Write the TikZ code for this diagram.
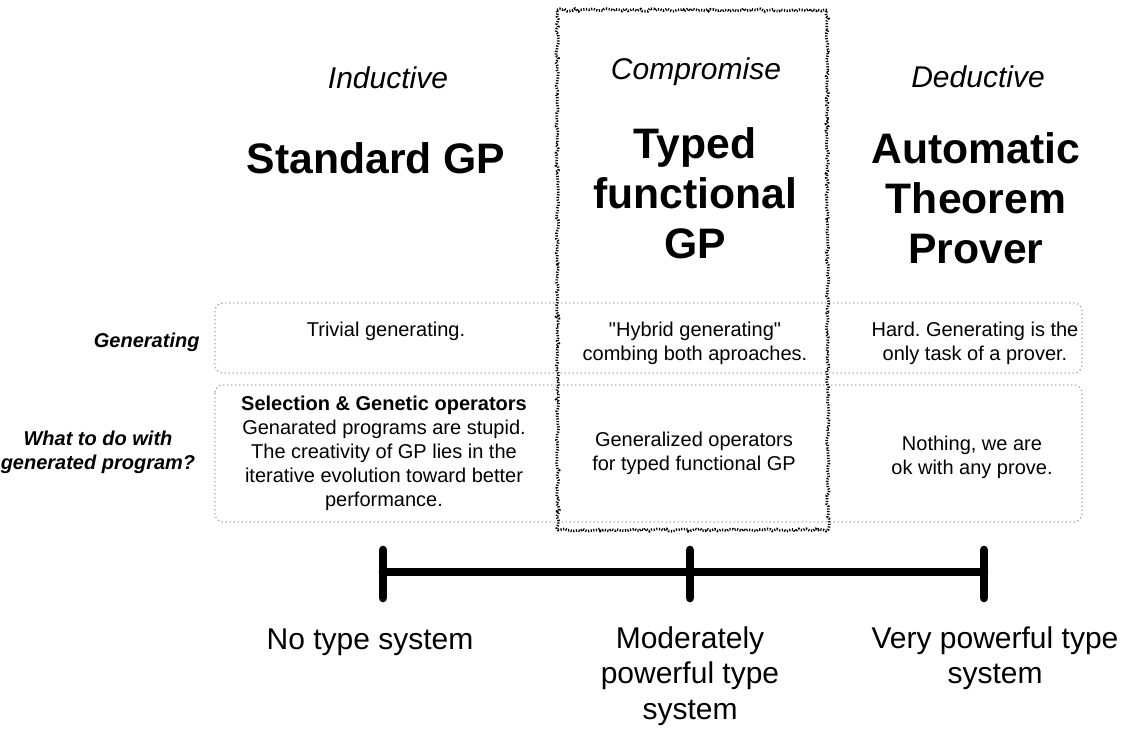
\documentclass[tikz,border=0pt]{standalone}
\usepackage{fontspec}
\setmainfont{Liberation Sans}
\newfontfamily\plainquotes{Liberation Sans}[Ligatures=TeXOff]
\usetikzlibrary{decorations.pathmorphing}
\frenchspacing

\tikzset{every picture/.style={line width=0.75pt}}
\tikzset{
  rowbox/.style={draw={rgb, 255:red, 170; green, 170; blue, 170 }, dotted, line width=1pt, rounded corners=6pt},
  roughbox/.style={draw=black, line width=2pt, dash pattern=on 0.9pt off 1.1pt, decorate, decoration={random steps, segment length=2pt, amplitude=1pt}},
  celltext/.style={inner sep=0.75pt, align=center, font=\fontsize{15}{18}\selectfont},
  rowlabel/.style={inner sep=0.75pt, align=center, font=\fontsize{15}{18}\selectfont\bfseries\itshape},
  headtext/.style={inner sep=0.75pt, align=center, font=\fontsize{32}{37.5}\selectfont\bfseries},
  kindtext/.style={inner sep=0.75pt, font=\fontsize{22.5}{26.6}\selectfont\itshape},
  axistext/.style={inner sep=0.75pt, align=center, font=\fontsize{22.5}{26.6}\selectfont},
  axisline/.style={line width=6.5pt, line cap=round}
}

\begin{document}
\begin{tikzpicture}[x=0.75pt,y=0.75pt,yscale=-1,xscale=1]
    \useasboundingbox (0,0) rectangle (1145,735);

    %Shape: Rounded Rectangle [id:generating row]
    \draw [rowbox] (215,303) rectangle (1082,373);
    %Shape: Rounded Rectangle [id:what to do row]
    \draw [rowbox] (215,385) rectangle (1082,522);
    %Shape: Rectangle [id:compromise column]
    \draw [roughbox] (557,10) -- (827,10) -- (828,530) -- (558,530) -- cycle;

    % Text Node
    \node [kindtext] (inductive) at (388,78) {Inductive};
    % Text Node
    \node [kindtext] (compromise) at (696,72) {Compromise};
    % Text Node
    \node [kindtext] (deductive) at (978,77) {Deductive};

    % Text Node
    \node [headtext] (stdgp) at (376,158) {Standard GP};
    % Text Node
    \node [headtext] (typedgp) at (695,193) {Typed\\functional\\GP};
    % Text Node
    \node [headtext] (prover) at (976,198) {Automatic\\Theorem\\Prover};

    % Text Node
    \node [rowlabel, anchor=east] (generating) at (201,342) {Generating};
    % Text Node
    \node [rowlabel] (whattodo) at (98,452) {What to do with\\generated program?};

    % Text Node
    \node [celltext] (stdgen) at (386,331) {Trivial generating.};
    % Text Node
    \node [celltext] (typedgen) at (695,343) {{\plainquotes"}Hybrid generating{\plainquotes"}\\combing both aproaches.};
    % Text Node
    \node [celltext] (provergen) at (975,343) {Hard. Generating is the\\only task of a prover.};

    % Text Node
    \node [celltext] (stdop) at (384,453) {\textbf{Selection \& Genetic operators}\\Genarated programs are stupid.\\The creativity of GP lies in the\\iterative evolution toward better\\performance.};
    % Text Node
    \node [celltext] (typedop) at (694,453) {Generalized operators\\for typed functional GP};
    % Text Node
    \node [celltext] (proverop) at (972,457) {Nothing, we are\\ok with any prove.};

    %Straight Lines [id:type axis]
    \coordinate (notype) at (383,572);
    \coordinate (modtype) at (690,572);
    \coordinate (fulltype) at (984,572);
    \coordinate (notypetop) at (383,550);
    \coordinate (notypebot) at (383,598);
    \coordinate (modtypetop) at (690,550);
    \coordinate (modtypebot) at (690,598);
    \coordinate (fulltypetop) at (984,550);
    \coordinate (fulltypebot) at (984,598);
    \draw [axisline] (notype) -- (fulltype);
    \draw [axisline] (notypetop) -- (notypebot);
    \draw [axisline] (modtypetop) -- (modtypebot);
    \draw [axisline] (fulltypetop) -- (fulltypebot);

    % Text Node
    \node [axistext] (notypelabel) at (370,642) {No type system};
    % Text Node
    \node [axistext] (modtypelabel) at (690,676) {Moderately\\powerful type\\system};
    % Text Node
    \node [axistext] (fulltypelabel) at (995,658) {Very powerful type\\system};

\end{tikzpicture}
\end{document}
